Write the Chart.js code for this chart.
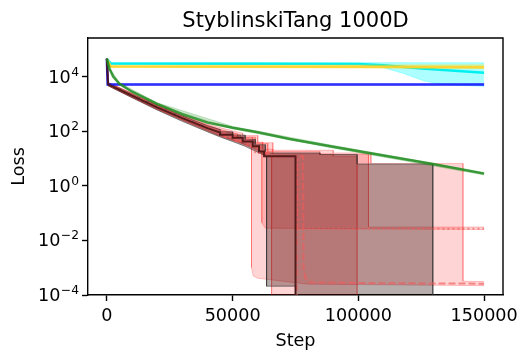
<!DOCTYPE html>
<html>
<head>
<meta charset="utf-8">
<script src="https://cdn.jsdelivr.net/npm/chart.js@4.4.1/dist/chart.umd.min.js"></script>
<style>
  html, body { margin: 0; padding: 0; background: #fff; }
  canvas { display: block; }
</style>
</head>
<body>
<canvas id="chart" width="527" height="361"></canvas>
<script>
// ticks
const xTicks = [0, 50000, 100000, 150000];
const yTickExps = [4, 2, 0, -2, -4];

// [step, loss] pairs; 1e-6 means "below the axis"
const cyanMean = [[0, 4.5e4], [1500, 3.0e4], [60000, 2.95e4], [100000, 2.9e4], [110000, 2.6e4], [125000, 2.0e4], [150000, 1.4e4]];
const cyanHi = [[0, 4.7e4], [1500, 3.3e4], [150000, 3.2e4]];
const cyanLo = [[0, 4.3e4], [1500, 2.8e4], [100000, 2.75e4], [108000, 2.4e4], [118000, 1.3e4], [126000, 7e3], [133000, 5.2e3], [150000, 4.4e3]];

const yellowMean = [[0, 4.5e4], [1500, 2.35e4], [100000, 2.3e4], [150000, 2.2e4]];
const yellowHi = [[0, 4.6e4], [1500, 2.6e4], [150000, 2.7e4]];
const yellowLo = [[0, 4.4e4], [1500, 2.2e4], [150000, 2.0e4]];

const blueMean = [[0, 4.5e4], [300, 5.1e3], [150000, 5.1e3]];
const blueHi = [[0, 4.6e4], [300, 5.5e3], [150000, 5.5e3]];
const blueLo = [[0, 4.4e4], [300, 4.8e3], [150000, 4.8e3]];

const greenMean = [[0, 4.5e4], [1000, 2e4], [2500, 1e4], [5000, 5.5e3], [10000, 2.8e3], [20000, 1e3], [30000, 420], [40000, 210], [50000, 135], [60000, 92], [72700, 52], [90000, 27], [110000, 13], [129600, 6.3], [150000, 2.8]];
const greenHi = [[0, 4.6e4], [1000, 2.2e4], [5000, 6e3], [20000, 1.1e3], [50000, 150], [90000, 30], [150000, 3.1]];
const greenLo = [[0, 4.4e4], [1000, 1.8e4], [5000, 5e3], [20000, 900], [50000, 122], [90000, 24], [150000, 2.5]];

const maroonMean = [[0, 4.5e4], [500, 5.2e3], [10000, 2e3], [20000, 750], [30000, 300], [40000, 130], [45000, 90], [45000, 75], [50000, 75], [50000, 58], [54000, 58], [54000, 42], [58000, 42], [58000, 28], [60500, 28], [60500, 18], [62500, 18], [62500, 12], [75000, 12], [75000, 1e-6], [150000, 1e-6]];
const grayHi = [[0, 4.7e4], [500, 6e3], [10000, 2.3e3], [20000, 880], [30000, 360], [40000, 160], [45000, 115], [45000, 95], [50000, 95], [50000, 72], [55000, 72], [55000, 50], [59000, 50], [59000, 32], [63000, 32], [63000, 16], [84700, 16], [84700, 14], [99500, 14], [99500, 6.3], [129600, 6.3], [129600, 1e-6], [150000, 1e-6]];
const grayLo = [[0, 4.3e4], [500, 4.6e3], [10000, 1.7e3], [20000, 600], [30000, 230], [40000, 95], [45000, 62], [50000, 42], [55000, 28], [60000, 17], [63500, 12], [63500, 2.1e-4], [75000, 2.1e-4], [75000, 1e-6], [150000, 1e-6]];

const dashDotMean = [[0, 4.5e4], [500, 5.3e3], [10000, 2.1e3], [20000, 780], [30000, 310], [40000, 135], [46000, 85], [46000, 70], [51000, 70], [51000, 50], [56000, 50], [56000, 30], [60000, 30], [60000, 16], [64000, 16], [64000, 12], [75500, 12], [75500, 1e-6], [150000, 1e-6]];
const dashDotHi = [[0, 4.7e4], [500, 6e3], [10000, 2.4e3], [20000, 900], [30000, 380], [40000, 170], [46000, 110], [52000, 80], [52000, 60], [58000, 60], [58000, 40], [62000, 40], [62000, 22], [66000, 22], [66000, 15], [90000, 15], [90000, 12], [99500, 12], [99500, 1e-6], [150000, 1e-6]];
const dashDotLo = [[0, 4.3e4], [500, 4.8e3], [10000, 1.8e3], [20000, 650], [30000, 260], [40000, 110], [46000, 65], [52000, 42], [58000, 25], [62000, 15], [65500, 12], [65500, 1e-6], [150000, 1e-6]];

const dashedMean = [[0, 4.5e4], [500, 5.4e3], [10000, 2.1e3], [20000, 800], [30000, 320], [40000, 140], [47000, 85], [47000, 65], [52000, 65], [52000, 45], [57000, 45], [57000, 28], [61000, 28], [61000, 16], [65000, 16], [65000, 12], [78000, 12], [78200, 1e-3], [79000, 4e-4], [81000, 2.9e-4], [110000, 2.7e-4], [150000, 2.6e-4]];
const dashedHi = [[0, 4.8e4], [500, 6.2e3], [10000, 2.5e3], [20000, 950], [30000, 400], [40000, 180], [48000, 115], [54000, 85], [54000, 70], [60000, 70], [60000, 38], [66000, 38], [66000, 20], [90000, 20], [90000, 16], [105000, 16], [105000, 6.6], [141600, 6.6], [141600, 3.2e-4], [150000, 3.1e-4]];
const dashedLo = [[0, 4.2e4], [500, 4.6e3], [10000, 1.7e3], [20000, 620], [30000, 250], [40000, 100], [48000, 55], [54000, 35], [57500, 28], [57500, 1e-3], [58200, 5e-4], [60000, 4.1e-4], [80000, 2.5e-4], [150000, 2.2e-4]];

const dottedMean = [[0, 4.5e4], [500, 5.2e3], [10000, 2e3], [20000, 760], [30000, 300], [40000, 130], [46000, 80], [46000, 62], [51000, 62], [51000, 44], [55000, 44], [55000, 30], [59000, 30], [59000, 17], [63000, 17], [63000, 12], [75800, 12], [75800, 0.027], [150000, 0.027]];
const dottedHi = [[0, 4.7e4], [500, 6e3], [10000, 2.35e3], [20000, 880], [30000, 360], [40000, 160], [46000, 105], [53000, 75], [53000, 62], [59000, 62], [59000, 36], [64000, 36], [64000, 18], [84700, 18], [84700, 14], [104000, 14], [104000, 0.031], [150000, 0.031]];
const dottedLo = [[0, 4.3e4], [500, 4.7e3], [10000, 1.75e3], [20000, 650], [30000, 260], [40000, 105], [46000, 60], [52000, 40], [57000, 26], [61600, 18], [61600, 0.045], [63000, 0.028], [150000, 0.025]];

const FONT = "'DejaVu Sans', sans-serif";
const PINK = 'rgba(255,0,0,0.17)';
const PINK_EDGE = 'rgba(255,0,0,0.22)';

const toXY = arr => arr.map(p => ({ x: p[0], y: p[1] }));

function line(id, pts, color, width, dash) {
    return { id, data: toXY(pts), borderColor: color, borderWidth: width, borderDash: dash || [], fill: false };
}

function band(id, hi, lo, fillColor, edgeColor) {
    return [
        { id: id + '_lo', data: toXY(lo), borderColor: edgeColor, borderWidth: 1, fill: false },
        { id: id + '_hi', data: toXY(hi), borderColor: edgeColor, borderWidth: 1, fill: id + '_lo', backgroundColor: fillColor }
    ];
}

// bottom layer first
let sets = [
    ...band('dashDot', dashDotHi, dashDotLo, PINK, PINK_EDGE),
    ...band('dashed', dashedHi, dashedLo, PINK, PINK_EDGE),
    ...band('dotted', dottedHi, dottedLo, PINK, PINK_EDGE),
    ...band('gray', grayHi, grayLo, 'rgba(30,0,0,0.32)', 'rgba(50,50,50,0.55)'),
    line('dotted', dottedMean, 'rgba(240,90,90,0.65)', 2, [2, 3]),
    line('dashed', dashedMean, 'rgba(240,90,90,0.65)', 2, [7, 3]),
    line('dashDot', dashDotMean, 'rgba(240,90,90,0.65)', 2, [7, 3, 2, 3]),
    ...band('cyan', cyanHi, cyanLo, 'rgba(0,255,255,0.32)', 'rgba(0,255,255,0.3)'),
    line('cyan', cyanMean, 'rgba(0,240,240,1)', 2.5),
    ...band('yellow', yellowHi, yellowLo, 'rgba(255,215,0,0.3)', 'rgba(255,215,0,0.3)'),
    line('yellow', yellowMean, 'rgba(255,210,40,0.9)', 2.5),
    ...band('blue', blueHi, blueLo, 'rgba(0,0,255,0.2)', 'rgba(0,0,255,0.2)'),
    line('blue', blueMean, 'rgba(20,20,255,0.85)', 2.5),
    line('maroon', maroonMean, 'rgba(70,20,20,0.9)', 2),
    ...band('green', greenHi, greenLo, 'rgba(0,128,0,0.2)', 'rgba(0,128,0,0.2)'),
    line('green', greenMean, 'rgba(30,140,30,0.85)', 2.5)
];

// chart.js draws dataset 0 on top
sets = sets.reverse();
sets.forEach(ds => {
    if (typeof ds.fill === 'string') {
        ds.fill = { target: sets.findIndex(o => o.id === ds.fill) };
    }
    ds.pointRadius = 0;
    ds.tension = 0;
});

const decorPlugin = {
    id: 'decor',
    afterDraw(chart) {
        const ctx = chart.ctx;
        const a = chart.chartArea;
        ctx.save();
        // top / right spines
        ctx.strokeStyle = '#000';
        ctx.lineWidth = 1.4;
        ctx.beginPath();
        ctx.moveTo(a.left, a.top);
        ctx.lineTo(a.right, a.top);
        ctx.lineTo(a.right, a.bottom);
        ctx.stroke();

        ctx.fillStyle = '#000';
        // title
        ctx.font = '21px ' + FONT;
        ctx.textAlign = 'center';
        ctx.textBaseline = 'alphabetic';
        ctx.fillText('StyblinskiTang 1000D', (a.left + a.right) / 2, 27);

        // x axis title
        ctx.font = '17.6px ' + FONT;
        ctx.fillText('Step', (a.left + a.right) / 2, 346);

        // y axis title
        ctx.save();
        ctx.translate(24, (a.top + a.bottom) / 2);
        ctx.rotate(-Math.PI / 2);
        ctx.fillText('Loss', 0, 0);
        ctx.restore();

        // y tick labels 10^n
        const ys = chart.scales.y;
        ctx.textAlign = 'right';
        yTickExps.forEach(e => {
            const y = ys.getPixelForValue(Math.pow(10, e));
            const expText = e < 0 ? '\u2212' + Math.abs(e) : String(e);
            ctx.font = '12.3px ' + FONT;
            const ew = ctx.measureText(expText).width;
            ctx.fillText(expText, 79, y - 1);
            ctx.font = '17.6px ' + FONT;
            ctx.fillText('10', 79 - ew - 0.5, y + 6);
        });
        ctx.restore();
    }
};

new Chart(document.getElementById('chart'), {
    type: 'line',
    data: { datasets: sets },
    options: {
        responsive: false,
        animation: false,
        devicePixelRatio: 1,
        layout: { padding: { top: 38, right: 24, left: 0, bottom: 0 } },
        plugins: { legend: { display: false }, tooltip: { enabled: false }, title: { display: false } },
        scales: {
            x: {
                type: 'linear',
                min: -7500,
                max: 157500,
                afterBuildTicks: axis => { axis.ticks = xTicks.map(v => ({ value: v })); },
                afterFit: axis => { axis.height = 66; },
                ticks: { color: '#000', font: { family: FONT, size: 17.6 }, padding: 5, maxRotation: 0, callback: v => String(v) },
                grid: { drawOnChartArea: false, drawTicks: true, tickLength: 6, tickWidth: 1.4, tickColor: '#000' },
                border: { display: true, color: '#000', width: 1.4 }
            },
            y: {
                type: 'logarithmic',
                min: 1e-4,
                max: 2.6e5,
                afterBuildTicks: axis => { axis.ticks = yTickExps.map(e => ({ value: Math.pow(10, e) })); },
                afterFit: axis => { axis.width = 88; },
                ticks: { callback: () => '' },
                grid: { drawOnChartArea: false, drawTicks: true, tickLength: 6, tickWidth: 1.4, tickColor: '#000' },
                border: { display: true, color: '#000', width: 1.4 }
            }
        }
    },
    plugins: [decorPlugin]
});
</script>
</body>
</html>
